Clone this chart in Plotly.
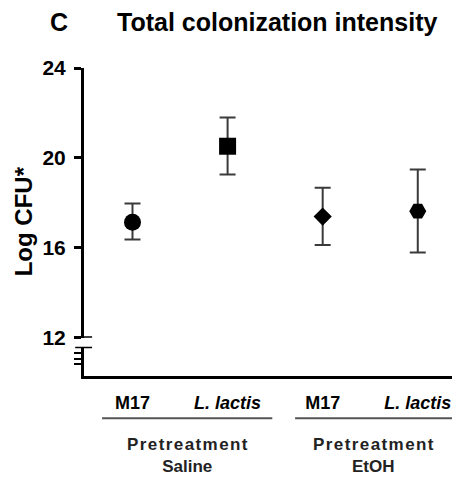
import plotly.graph_objects as go

# ---- data ----
categories = ["M17", "<i>L. lactis</i>", "M17", "<i>L. lactis</i>"]
x_pos = [0, 1, 2, 3]
means = [17.14, 20.52, 17.39, 17.63]
upper = [17.97, 21.80, 18.67, 19.49]
lower = [16.37, 19.26, 16.13, 15.79]
symbols = ["circle", "square", "diamond", "hexagon2"]
group_line1 = ["Pretreatment", "Pretreatment"]
group_line2 = ["Saline", "EtOH"]
y_ticks = [12, 16, 20, 24]

FONT = "Liberation Sans, Arial, sans-serif"
HS = "\u200a"

fig = go.Figure()
sizes = [17, 17, 14, 17]
for i in range(len(means)):
    fig.add_trace(go.Scatter(
        x=[x_pos[i]], y=[means[i]], mode="markers",
        marker=dict(symbol=symbols[i], size=sizes[i], color="black",
                    line=dict(width=0)),
        error_y=dict(type="data", symmetric=False,
                     array=[upper[i] - means[i]],
                     arrayminus=[means[i] - lower[i]],
                     color="#3a3a3a", thickness=2, width=8),
        showlegend=False, cliponaxis=False,
    ))

fig.update_layout(
    width=463, height=479,
    margin=dict(l=84, r=11, t=68, b=103),
    paper_bgcolor="white", plot_bgcolor="white",
    font=dict(family=FONT, color="black"),
    xaxis=dict(
        range=[-0.51, 3.36], tickmode="array", tickvals=x_pos, ticktext=categories,
        showline=True, linewidth=3, linecolor="black", ticks="",
        showgrid=False, zeroline=False, anchor="y2",
        tickfont=dict(size=18, family=FONT, weight="bold"),
        ticklabelstandoff=8,
    ),
    yaxis=dict(
        domain=[0.124, 1], range=[12, 24], tickvals=y_ticks,
        showline=True, linewidth=3, linecolor="black",
        ticks="outside", ticklen=7, tickwidth=3, tickcolor="black",
        showgrid=False, zeroline=False, anchor="x",
        tickfont=dict(size=21, family=FONT, weight="bold"),
        ticklabelstandoff=4,
    ),
    yaxis2=dict(
        domain=[0, 0.0947], range=[0, 5], tickvals=[2, 3, 4],
        showticklabels=False,
        showline=True, linewidth=3, linecolor="black",
        ticks="outside", ticklen=7, tickwidth=2, tickcolor="black",
        showgrid=False, zeroline=False, anchor="x",
    ),
)

# axis break marks
fig.add_shape(type="line", xref="paper", yref="y", x0=-0.024, x1=0.022, y0=12, y1=12,
              line=dict(color="black", width=3))
fig.add_shape(type="line", xref="paper", yref="y2", x0=-0.024, x1=0.022, y0=5, y1=5,
              line=dict(color="black", width=3))

# group lines and labels
line_spans = [(-0.32, 1.47), (1.71, 3.36)]
for (a, b), l1, l2 in zip(line_spans, group_line1, group_line2):
    fig.add_shape(type="line", xref="x", yref="paper", x0=a, x1=b, y0=-0.137, y1=-0.137,
                  line=dict(color="#555555", width=2))
    c = (a + b) / 2
    fig.add_annotation(x=c, y=-0.259, xref="x", yref="paper",
                       text=HS.join(l1) + "<br>" + l2,
                       showarrow=False, align="center",
                       font=dict(size=17, family=FONT, weight="bold", color="#222222"),
                       xanchor="center", yanchor="middle")

# title & panel letter
fig.add_annotation(x=-0.098, y=1.15, xref="paper", yref="paper", text="C",
                   showarrow=False, xanchor="left", yanchor="middle",
                   font=dict(size=25, family=FONT, weight="bold"))
fig.add_annotation(x=0.0855, y=1.15, xref="paper", yref="paper", text="Total colonization intensity",
                   showarrow=False, xanchor="left", yanchor="middle",
                   font=dict(size=25, family=FONT, weight="bold"))
# y axis title
fig.add_annotation(x=-0.164, y=0.501, xref="paper", yref="paper", text="Log CFU*",
                   showarrow=False, textangle=-90, xanchor="center", yanchor="middle",
                   font=dict(size=24, family=FONT, weight="bold"))

fig.write_html("out.html")
